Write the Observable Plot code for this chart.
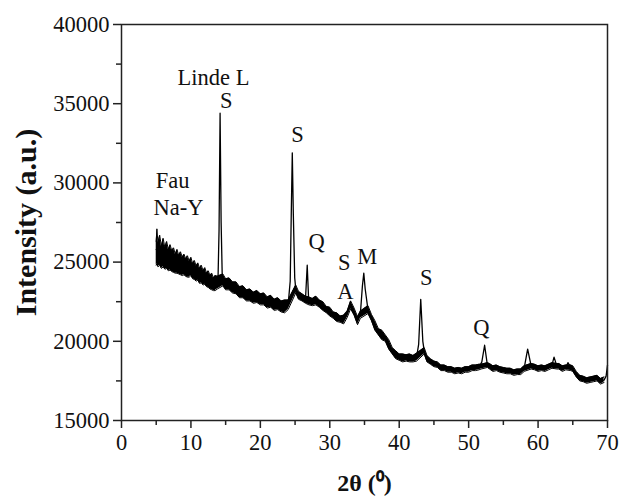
<!DOCTYPE html>
<html>
<head>
<meta charset="utf-8">
<script src="https://cdn.jsdelivr.net/npm/d3@7"></script>
<script src="https://cdn.jsdelivr.net/npm/@observablehq/plot@0.6"></script>
<style>
  html, body { margin: 0; padding: 0; background: white; }
</style>
</head>
<body>
<div id="chart"></div>
<script>
// XRD trace (mean line): 2θ (degrees) and intensity (a.u.)
const twoTheta = [5, 5.5, 6, 6.5, 7, 7.5, 8, 8.5, 9, 9.5, 10, 10.5, 11, 11.5, 12, 12.5, 13, 13.5, 13.9, 14.05, 14.2, 14.35, 14.5, 14.6,
  15, 15.5, 16, 16.5, 17, 17.5, 18, 18.5, 19, 19.5, 20, 20.5, 21, 21.5, 22, 22.5, 23, 23.5, 24.0, 24.3, 24.45, 24.6, 24.75, 24.95,
  25.1, 25.5, 26, 26.5, 26.75, 26.95, 27, 27.5, 28, 28.5, 29, 29.5, 30, 30.5, 31, 31.5, 32, 32.5, 33, 33.5, 34, 34.4, 34.7, 34.9, 35.1,
  35.5, 36, 36.5, 37, 37.5, 38, 38.5, 39, 39.5, 40, 40.5, 41, 41.5, 42, 42.5, 42.8, 43.1, 43.4, 43.6, 44, 44.5, 45, 45.5, 46, 46.5,
  47, 47.5, 48, 48.5, 49, 49.5, 50, 50.5, 51, 51.5, 51.9, 52.3, 52.7, 53, 53.5, 54, 54.5, 55, 55.5, 56, 56.5, 57, 57.5, 58, 58.5, 59,
  59.5, 60, 60.5, 61, 61.5, 62, 62.3, 62.7, 63, 63.5, 64, 64.3, 64.7, 65, 65.5, 66, 66.5, 67, 67.5, 68, 68.5, 69, 69.5, 69.8, 70];
const intensity = [25800, 25700, 25500, 25350, 25250, 25100, 25000, 24900, 24850, 24750, 24700, 24550, 24400, 24250, 24100, 23950, 23750, 23650, 23900, 27000, 34400, 27500, 24300, 23800,
  23650, 23550, 23450, 23300, 23150, 23050, 22950, 22850, 22800, 22750, 22700, 22600, 22500, 22450, 22380, 22300, 22250, 22170, 22300, 23800, 28000, 31900, 28000, 24000,
  23300, 22900, 22750, 22650, 24800, 22650, 22500, 22500, 22550, 22400, 22200, 22000, 21850, 21650, 21500, 21400, 21350, 21700, 22300, 21900, 21300, 21700, 23500, 24300, 23300,
  22000, 21500, 21000, 20600, 20400, 20200, 19800, 19400, 19150, 19000, 18950, 18950, 18950, 18900, 19000, 19800, 22650, 20000, 19400, 18900, 18700, 18600, 18500, 18350, 18300,
  18250, 18200, 18150, 18150, 18150, 18200, 18250, 18300, 18350, 18350, 18700, 19750, 18500, 18400, 18300, 18300, 18250, 18150, 18150, 18100, 18050, 18050, 18100, 18300, 19500, 18450,
  18350, 18300, 18300, 18300, 18350, 18500, 19000, 18450, 18400, 18300, 18350, 18650, 18350, 18300, 17900, 17700, 17600, 17550, 17550, 17650, 17650, 17500, 17550, 17800, 18500];

// Noise envelope of the trace (lower / upper edge)
const noiseX = [5.0, 5.1, 5.25, 5.5, 5.75, 6.0, 6.25, 6.5, 6.75, 7.0, 7.25, 7.5, 7.75, 8.0, 8.25, 8.5, 8.75, 9.0, 9.25, 9.5, 9.75, 10, 10.25, 10.5, 10.75, 11, 11.25, 11.5, 11.75, 12, 12.25, 12.5, 12.75, 13, 13.25, 13.5, 13.8,
  14.6, 15, 15.5, 16, 16.5, 17, 17.5, 18, 18.5, 19, 19.5, 20, 20.5, 21, 21.5, 22, 22.5, 23, 23.5, 24,
  25.1, 25.5, 26, 26.5, 27, 27.5, 28, 28.5, 29, 29.5, 30, 30.5, 31, 31.5, 32, 32.5, 33, 33.5, 34, 34.4, 35.5, 36, 36.5, 37, 37.5, 38, 38.5, 39, 39.5, 40, 40.5, 41, 41.5, 42, 42.5,
  43.6, 44, 44.5, 45, 45.5, 46, 46.5, 47, 47.5, 48, 48.5, 49, 49.5, 50, 50.5, 51, 51.5, 51.8, 52.7, 53, 53.5, 54, 54.5, 55, 55.5, 56, 56.5, 57, 57.5, 58,
  59, 59.5, 60, 60.5, 61, 61.5, 62, 62.7, 63, 63.5, 64, 64.7, 65, 65.5, 66, 66.5, 67, 67.5, 68, 68.5, 69, 69.5];
const noiseHi = [26300, 27100, 26200, 26700, 26000, 26500, 25900, 26300, 25800, 26100, 25700, 25900, 25500, 25800, 25400, 25650, 25300, 25500, 25200, 25400, 25050, 25300, 24900, 25100, 24750, 24950, 24600, 24800, 24450, 24650, 24300, 24450, 24150, 24300, 24000, 24150, 24100,
  24250, 23950, 24000, 23750, 23750, 23450, 23500, 23250, 23300, 23100, 23200, 23000, 23050, 22800, 22900, 22650, 22750, 22550, 22600, 22600,
  23550, 23150, 23000, 22850, 22800, 22700, 22850, 22600, 22500, 22200, 22150, 21850, 21800, 21600, 21650, 21900, 22550, 22100, 21550, 21900, 22250, 21700, 21300, 20800, 20700, 20400, 20100, 19600, 19400, 19200, 19200, 19150, 19200, 19100, 19250,
  19600, 19100, 18900, 18750, 18700, 18500, 18500, 18400, 18400, 18300, 18350, 18300, 18400, 18400, 18500, 18500, 18550, 18550, 18650, 18600, 18450, 18500, 18400, 18350, 18300, 18300, 18200, 18250, 18250, 18450,
  18600, 18550, 18450, 18500, 18450, 18550, 18650, 18600, 18600, 18450, 18500, 18500, 18450, 18100, 17850, 17800, 17700, 17750, 17800, 17850, 17650, 17750];
const noiseLo = [24800, 24900, 24700, 24800, 24600, 24700, 24550, 24600, 24450, 24500, 24400, 24350, 24300, 24300, 24250, 24200, 24150, 24200, 24100, 24050, 24050, 24150, 23950, 23900, 23800, 23850, 23650, 23700, 23550, 23600, 23450, 23400, 23300, 23250, 23200, 23200, 23300,
  23500, 23250, 23250, 23050, 23000, 22750, 22750, 22550, 22550, 22400, 22450, 22300, 22300, 22100, 22150, 21950, 22000, 21850, 21800, 22000,
  23050, 22650, 22550, 22400, 22300, 22250, 22300, 22150, 21950, 21800, 21600, 21450, 21250, 21200, 21100, 21500, 22050, 21650, 21050, 21450, 21750, 21300, 20700, 20400, 20100, 20000, 19500, 19200, 18900, 18800, 18700, 18750, 18700, 18700, 18750,
  19200, 18700, 18550, 18400, 18350, 18150, 18150, 18050, 18050, 17950, 18000, 17950, 18050, 18050, 18150, 18150, 18200, 18250, 18350, 18250, 18100, 18150, 18050, 18000, 17950, 17950, 17850, 17900, 17900, 18100,
  18250, 18200, 18100, 18150, 18100, 18200, 18300, 18250, 18250, 18100, 18200, 18150, 18100, 17750, 17500, 17450, 17350, 17400, 17450, 17500, 17300, 17400];

// Peak annotations
const labelText = ["Linde L", "S", "S", "Fau", "Na-Y", "Q", "S", "A", "M", "S", "Q"];
const labelX    = [13.25, 15.1, 25.35, 7.35, 8.2, 28.1, 32.1, 32.25, 35.4, 43.9, 51.85];
const labelY    = [36650, 35200, 33050, 30150, 28450, 26300, 24975, 23145, 25350, 24030, 20870];

// Axis ticks
const yTicks = [15000, 20000, 25000, 30000, 35000, 40000];
const yMinor = [17500, 22500, 27500, 32500, 37500];
const xTicks = [0, 10, 20, 30, 40, 50, 60, 70];
const xMinor = [5, 15, 25, 35, 45, 55, 65];

const trace = twoTheta.map((x, i) => ({x, y: intensity[i]}));
const band = noiseX.map((x, i) => ({x, lo: noiseLo[i], hi: noiseHi[i]}));
const labels = labelText.map((t, i) => ({t, x: labelX[i], y: labelY[i]}));

const chart = Plot.plot({
  width: 619,
  height: 500,
  marginLeft: 121,
  marginRight: 12,
  marginTop: 24,
  marginBottom: 80,
  x: {domain: [0, 70]},
  y: {domain: [15000, 40000]},
  style: {fontFamily: "'Liberation Serif', 'Times New Roman', serif", fontSize: "22px", color: "#111", background: "white"},
  marks: [
    Plot.areaY(band, {x: "x", y1: "lo", y2: "hi", fill: "#000", curve: "linear"}),
    Plot.line(band, {x: "x", y: "hi", stroke: "#000", strokeWidth: 1}),
    Plot.line(band, {x: "x", y: "lo", stroke: "#000", strokeWidth: 1}),
    Plot.line(trace, {x: "x", y: "y", stroke: "#000", strokeWidth: 1.3}),
    Plot.frame({stroke: "#222", strokeWidth: 1.5}),
    Plot.axisY({ticks: yTicks, tickSize: 8, tickPadding: 4, tickFormat: d3.format("d"), label: null, fontSize: 22.5, stroke: "#222", strokeWidth: 1.5}),
    Plot.axisY({ticks: yMinor, tickSize: 5, tickFormat: () => "", label: null, stroke: "#222", strokeWidth: 1.5}),
    Plot.axisX({ticks: xTicks, tickSize: 8, tickPadding: 6, tickFormat: d3.format("d"), label: null, fontSize: 22.5, stroke: "#222", strokeWidth: 1.5}),
    Plot.axisX({ticks: xMinor, tickSize: 5, tickFormat: () => "", label: null, stroke: "#222", strokeWidth: 1.5}),
    Plot.text(labels, {x: "x", y: "y", text: "t", fontSize: 22.5, fill: "#111"}),
    Plot.text(["Intensity (a.u.)"], {frameAnchor: "left", dx: -95, rotate: -90, textAnchor: "middle", lineAnchor: "middle", fontWeight: "bold", fontSize: 30, fill: "#111"}),
    Plot.text(["2θ (⁰)"], {frameAnchor: "bottom", dy: 63, textAnchor: "middle", lineAnchor: "middle", fontWeight: "bold", fontSize: 24, fill: "#111"})
  ]
});
document.getElementById("chart").appendChild(chart);
</script>
</body>
</html>
